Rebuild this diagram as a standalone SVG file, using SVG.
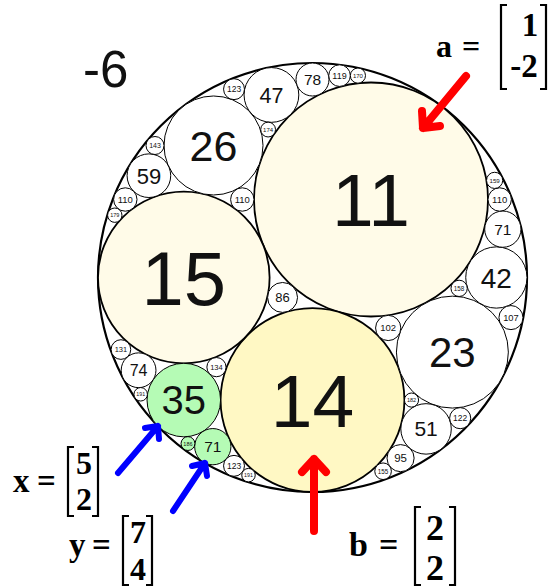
<svg xmlns="http://www.w3.org/2000/svg" width="548" height="588" viewBox="0 0 548 588">
<style>
.c{fill:#fff;stroke:#000;stroke-width:1}
.big{stroke-width:1.8}
.pale{fill:#fffbe8}
.yel{fill:#fff8c4}
.grn{fill:#b5fbb5}
.n{font-family:"Liberation Sans",Arial,sans-serif;text-anchor:middle;fill:#111}
.m{font-family:"Liberation Serif","Times New Roman",serif;font-weight:bold;fill:#000}
.br{fill:none;stroke:#000;stroke-width:2.2}
.red{fill:none;stroke:#f00;stroke-width:8;stroke-linecap:round;stroke-linejoin:round}
.blue{fill:none;stroke:#00f;stroke-width:6;stroke-linecap:round;stroke-linejoin:round}
</style>
<g id="outer"><circle class="c" cx="312.5" cy="277.5" r="214.5" style="stroke-width:2.2"/><text class="n" x="83" y="87" font-size="51" style="text-anchor:start">-6</text></g>
<g id="c11"><circle class="c big pale" cx="371" cy="199.5" r="117"/><text class="n" x="371" y="226.4" font-size="75">11</text></g>
<g id="c14"><circle class="c big yel" cx="312.5" cy="400.07" r="91.93"/><text class="n" x="312.5" y="426.9" font-size="75">14</text></g>
<g id="c15"><circle class="c big pale" cx="183.8" cy="277.5" r="85.8"/><text class="n" x="183.8" y="304.7" font-size="76">15</text></g>
<g id="c23"><circle class="c" cx="452.39" cy="352.11" r="55.96"/><text class="n" x="452.39" y="367.1" font-size="42">23</text></g>
<g id="c26"><circle class="c" cx="213.5" cy="145.49" r="49.5"/><text class="n" x="213.5" y="160.9" font-size="43">26</text></g>
<g id="c35"><circle class="c grn" cx="183.8" cy="400.07" r="36.77"/><text class="n" x="183.8" y="414.4" font-size="40">35</text></g>
<g id="c42"><circle class="c" cx="496.36" cy="277.5" r="30.64"/><text class="n" x="496.36" y="287.5" font-size="28">42</text></g>
<g id="c47"><circle class="c" cx="271.43" cy="94.95" r="27.38"/><text class="n" x="271.43" y="102.6" font-size="21.5">47</text></g>
<g id="c51"><circle class="c" cx="426.06" cy="428.91" r="25.24"/><text class="n" x="426.06" y="436.4" font-size="21">51</text></g>
<g id="c59"><circle class="c" cx="148.9" cy="175.7" r="21.81"/><text class="n" x="148.9" y="183.6" font-size="22">59</text></g>
<g id="c71a"><circle class="c grn" cx="212.8" cy="446.68" r="18.13"/><text class="n" x="212.8" y="452.2" font-size="15.5">71</text></g>
<g id="c71b"><circle class="c" cx="502.83" cy="229.16" r="18.13"/><text class="n" x="502.83" y="234.7" font-size="15.5">71</text></g>
<g id="c74"><circle class="c" cx="138.58" cy="370.26" r="17.39"/><text class="n" x="138.58" y="376" font-size="16">74</text></g>
<g id="c78"><circle class="c" cx="312.5" cy="79.5" r="16.5"/><text class="n" x="312.5" y="85" font-size="15.5">78</text></g>
<g id="c86"><circle class="c" cx="282.57" cy="297.45" r="14.97"/><text class="n" x="282.57" y="302.1" font-size="13">86</text></g>
<g id="c95"><circle class="c" cx="400.56" cy="458.13" r="13.55"/><text class="n" x="400.56" y="462.2" font-size="11.5">95</text></g>
<g id="c102"><circle class="c" cx="388.21" cy="327.97" r="12.62"/><text class="n" x="388.21" y="331.4" font-size="9.5">102</text></g>
<g id="c107"><circle class="c" cx="510.96" cy="317.59" r="12.03"/><text class="n" x="510.96" y="320.9" font-size="9.3">107</text></g>
<g id="c110a"><circle class="c" cx="242.3" cy="199.5" r="11.7"/><text class="n" x="242.3" y="202.9" font-size="9.5">110</text></g>
<g id="c110b"><circle class="c" cx="125.3" cy="199.5" r="11.7"/><text class="n" x="125.3" y="202.9" font-size="9.5">110</text></g>
<g id="c110c"><circle class="c" cx="499.7" cy="199.5" r="11.7"/><text class="n" x="499.7" y="202.9" font-size="9.5">110</text></g>
<g id="c119"><circle class="c" cx="339.54" cy="75.62" r="10.82"/><text class="n" x="339.54" y="78.8" font-size="9">119</text></g>
<g id="c122"><circle class="c" cx="460.19" cy="418.16" r="10.55"/><text class="n" x="460.19" y="421.2" font-size="8.5">122</text></g>
<g id="c123a"><circle class="c" cx="234.02" cy="465.84" r="10.46"/><text class="n" x="234.02" y="468.9" font-size="8.5">123</text></g>
<g id="c123b"><circle class="c" cx="234.02" cy="89.16" r="10.46"/><text class="n" x="234.02" y="92.2" font-size="8.5">123</text></g>
<g id="c131"><circle class="c" cx="120.92" cy="349.55" r="9.82"/><text class="n" x="120.92" y="352.2" font-size="7.5">131</text></g>
<g id="c134"><circle class="c" cx="216.46" cy="367.14" r="9.6"/><text class="n" x="216.46" y="369.8" font-size="7.5">134</text></g>
<g id="c143"><circle class="c" cx="155" cy="145.5" r="9"/><text class="n" x="155" y="148" font-size="7">143</text></g>
<g id="c155"><circle class="c" cx="383.08" cy="471.24" r="8.3"/><text class="n" x="383.08" y="473.5" font-size="6.3">155</text></g>
<g id="c158"><circle class="c" cx="459.12" cy="288.36" r="8.15"/><text class="n" x="459.12" y="290.6" font-size="6.3">158</text></g>
<g id="c159"><circle class="c" cx="494.62" cy="180.37" r="8.09"/><text class="n" x="494.62" y="182.6" font-size="6.2">159</text></g>
<g id="c170"><circle class="c" cx="357.92" cy="75.62" r="7.57"/><text class="n" x="357.92" y="77.8" font-size="6">170</text></g>
<g id="c174"><circle class="c" cx="268.12" cy="129.57" r="7.4"/><text class="n" x="268.12" y="131.7" font-size="6">174</text></g>
<g id="c179"><circle class="c" cx="114.78" cy="215.19" r="7.19"/><text class="n" x="114.78" y="217.2" font-size="5.5">179</text></g>
<g id="c182"><circle class="c" cx="411.5" cy="400.07" r="7.07"/><text class="n" x="411.5" y="402.1" font-size="5.5">182</text></g>
<g id="c186"><circle class="c grn" cx="187.95" cy="443.56" r="6.92"/><text class="n" x="187.95" y="445.5" font-size="5.5">186</text></g>
<g id="c191a"><circle class="c" cx="140.68" cy="394.3" r="6.74"/><text class="n" x="140.68" y="396.2" font-size="5.3">191</text></g>
<g id="c191b"><circle class="c" cx="248.49" cy="475.15" r="6.74"/><text class="n" x="248.49" y="477.1" font-size="5.3">191</text></g>
<g id="labels">
<g id="lab-a"><text class="m" x="436" y="57" font-size="32">a</text><text class="m" x="462" y="57" font-size="32">=</text>
<path class="br" d="M507,5 H501 V89 H507 M540,5 H546 V89 H540"/>
<text class="m" x="530" y="36" font-size="33" text-anchor="middle">1</text><text class="m" x="524" y="77" font-size="33" text-anchor="middle">-2</text></g>
<g id="lab-b"><text class="m" x="349" y="556" font-size="34">b</text><text class="m" x="379" y="556" font-size="34">=</text>
<path class="br" d="M421,507 H415 V585 H421 M449,507 H455 V585 H449"/>
<text class="m" x="435" y="540" font-size="36" text-anchor="middle">2</text><text class="m" x="435" y="580" font-size="36" text-anchor="middle">2</text></g>
<g id="lab-x"><text class="m" x="13" y="492" font-size="33">x</text><text class="m" x="37" y="492" font-size="33">=</text>
<path class="br" d="M74,447 H68 V516 H74 M92,447 H98 V516 H92"/>
<text class="m" x="84" y="474" font-size="32" text-anchor="middle">5</text><text class="m" x="84" y="510" font-size="32" text-anchor="middle">2</text></g>
<g id="lab-y"><text class="m" x="69" y="556" font-size="33">y</text><text class="m" x="92" y="556" font-size="33">=</text>
<path class="br" d="M129,516 H123 V585 H129 M146,516 H152 V585 H146"/>
<text class="m" x="138" y="543" font-size="32" text-anchor="middle">7</text><text class="m" x="138" y="580" font-size="32" text-anchor="middle">4</text></g>
</g>
<g id="connectors">
<path class="red" d="M466,76 L423,128 M422,111 L423,128 L440,126"/>
<path class="red" d="M314,531 V459 M302,472 L314,459 L326,472"/>
<path class="blue" d="M118,473 L158,426 M145,428 L158,426 L159,439"/>
<path class="blue" d="M173,511 L205,463 M192,466 L205,463 L207,476"/>
</g>
</svg>
